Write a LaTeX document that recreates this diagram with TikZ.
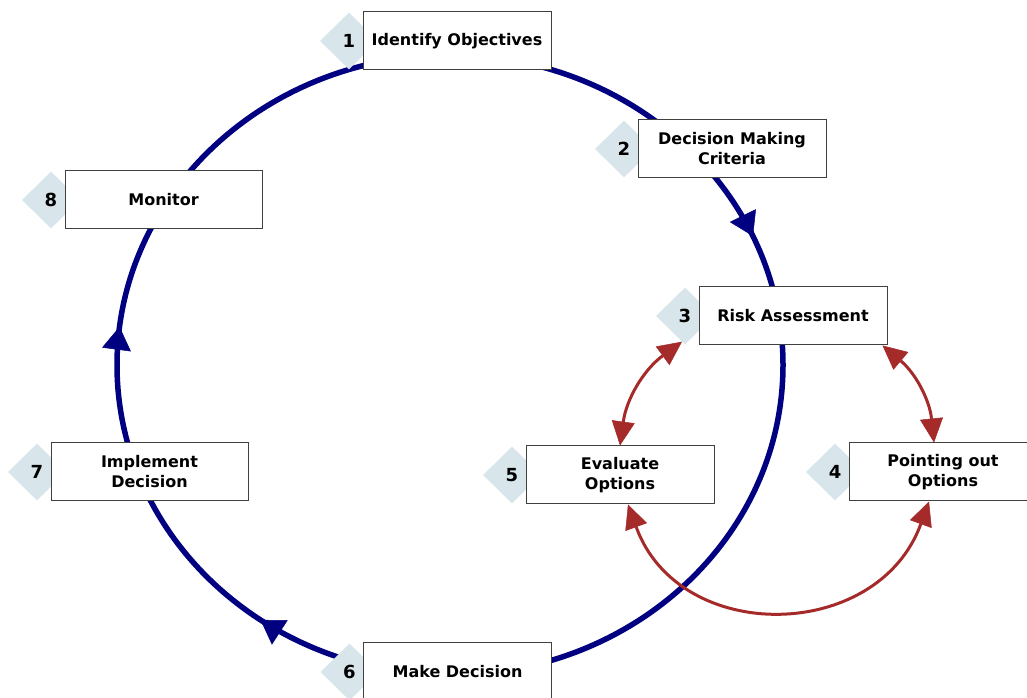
\documentclass[tikz,border=0pt]{standalone}
\usepackage{fontspec}
\setmainfont{DejaVu Sans}
\usetikzlibrary{arrows.meta,shapes.geometric,decorations.markings}
\definecolor{navyc}{HTML}{000080}
\definecolor{brownc}{HTML}{A52A2A}
\definecolor{diamc}{HTML}{D8E6EB}
\definecolor{boxline}{HTML}{404040}
\begin{document}
\begin{tikzpicture}[x=1pt,y=1pt,
  stepbox/.style={draw=boxline, line width=1pt, fill=white, minimum width=188pt,
    minimum height=58pt, inner sep=0pt, align=center,
    font=\fontsize{16}{20}\selectfont\bfseries},
  widebox/.style={stepbox, minimum width=197pt},
  badge/.style={diamond, fill=diamc, minimum width=58pt, minimum height=57pt,
    inner sep=0pt, font=\fontsize{18}{20}\selectfont\bfseries},
  cycleline/.style={color=navyc, line width=5.5pt},
  loopline/.style={draw=brownc, line width=3pt,
    {Triangle[length=24pt,width=23pt,line width=0.5pt]}-{Triangle[length=24pt,width=23pt,line width=0.5pt]}}
]
\useasboundingbox (0,0) rectangle (1027,698);
\coordinate (c) at (450,333);
\draw[cycleline, postaction={decorate}, decoration={markings,
    mark=at position 0.066 with {\arrowreversed{Triangle[length=23pt,width=29pt,line width=0.5pt]}},
    mark=at position 0.481 with {\arrowreversed{Triangle[length=23pt,width=29pt,line width=0.5pt]}},
    mark=at position 0.651 with {\arrowreversed{Triangle[length=23pt,width=29pt,line width=0.5pt]}}}]
  (c) ellipse [x radius=333pt, y radius=310pt];

\node[badge] (d1) at (349,657) {1};
\node[badge] (d2) at (624,549) {2};
\node[badge] (d3) at (685,382) {3};
\node[badge] (d4) at (835,226) {4};
\node[badge] (d5) at (512,223) {5};
\node[badge] (d6) at (349.5,26) {6};
\node[badge] (d7) at (37,226) {7};
\node[badge] (d8) at (51,498) {8};

\node[stepbox] (n1) at (457,657) {Identify Objectives};
\node[stepbox] (n2) at (732,549) {Decision Making\\Criteria};
\node[stepbox] (n3) at (793,382) {Risk Assessment};
\node[stepbox] (n4) at (943,226) {Pointing out\\Options};
\node[stepbox] (n5) at (620,223) {Evaluate\\Options};
\node[stepbox] (n6) at (457.5,26) {Make Decision};
\node[widebox] (n7) at (149.5,226) {Implement\\Decision};
\node[widebox] (n8) at (163.5,498) {Monitor};

\draw[loopline] ([xshift=-3pt,yshift=3pt]d3.south) to[bend right=23] (n5.north);
\draw[loopline] ([xshift=-5pt]n3.south east) to[bend left=22] ([xshift=-9pt]n4.north);
\draw[loopline] ([xshift=8pt]n5.south) .. controls +(-70:150pt) and +(-110:150pt) .. ([xshift=-14pt]n4.south);
\end{tikzpicture}
\end{document}
